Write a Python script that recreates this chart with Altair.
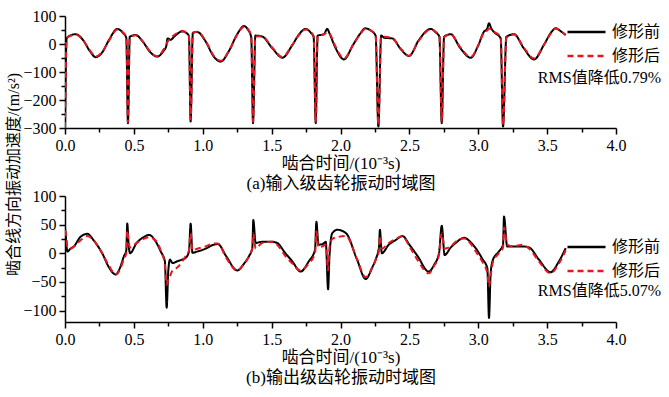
import altair as alt
import pandas as pd

series = ["修形前", "修形后"]
colors = ["#000000", "#e8161e"]

# ---- (a) input stage ----
top_t = [0.000, 0.012, 0.030, 0.078, 0.130, 0.180, 0.223, 0.270, 0.320, 0.380, 0.420, 0.445, 0.457, 0.470,
         0.513, 0.570, 0.620, 0.670, 0.715, 0.735, 0.745, 0.765, 0.800, 0.850, 0.880, 0.900, 0.912, 0.928,
         0.960, 1.020, 1.080, 1.130, 1.190, 1.250, 1.300, 1.330, 1.352, 1.365, 1.382, 1.430, 1.505, 1.578,
         1.650, 1.700, 1.747, 1.785, 1.805, 1.820, 1.834, 1.880, 1.904, 1.920, 1.965, 2.025, 2.090, 2.140,
         2.180, 2.220, 2.255, 2.275, 2.295, 2.320, 2.376, 2.440, 2.497, 2.570, 2.655, 2.690, 2.718, 2.735,
         2.752, 2.800, 2.870, 2.945, 3.000, 3.040, 3.065, 3.078, 3.095, 3.114, 3.163, 3.180, 3.204, 3.260,
         3.330, 3.405, 3.480, 3.530, 3.562, 3.600, 3.635]
top_before = [-300, 20, 28, 35, 15, -25, -47, -30, 15, 54, 40, 22, -283, 26,
              32, 5, -30, -45, -25, -8, 20, 15, 30, 45, 40, 28, -277, 40,
              43, 10, -45, -63, -25, 35, 64, 50, 24, -283, 30, 27, -15, -49,
              -4, 35, 54, 40, 25, -283, 30, 35, 54, 38, -15, -55, -4, 35,
              56, 48, 30, -295, 30, 22, 20, -20, -43, 15, 54, 42, 26, -283,
              26, 35, -15, -49, -5, 43, 55, 74, 55, 43, 20, -295, 26, 35,
              -15, -55, 0, 42, 56, 45, 32]
top_after = [-300, 18, 27, 33, 14, -22, -45, -28, 12, 52, 42, 24, -280, 22,
             31, 6, -28, -44, -20, -2, 8, 20, 35, 47, 40, 30, -270, 38,
             44, 12, -42, -60, -25, 33, 62, 52, 28, -278, 27, 28, -13, -47,
             -3, 33, 52, 42, 28, -280, 28, 34, 42, 38, -10, -52, -5, 33,
             54, 48, 32, -290, 25, 26, 20, -18, -42, 13, 52, 44, 28, -280,
             24, 34, -12, -47, -5, 40, 48, 55, 52, 44, 25, -290, 22, 34,
             -12, -52, 0, 40, 55, 46, 32]

# ---- (b) output stage ----
bot_t = [0.000, 0.006, 0.017, 0.040, 0.065, 0.110, 0.162, 0.210, 0.270, 0.320, 0.368, 0.400, 0.428, 0.445,
         0.452, 0.462, 0.472, 0.520, 0.570, 0.610, 0.660, 0.695, 0.725, 0.738, 0.750, 0.762, 0.780, 0.815,
         0.850, 0.876, 0.900, 0.912, 0.925, 0.960, 1.020, 1.080, 1.110, 1.170, 1.250, 1.300, 1.336, 1.360,
         1.367, 1.384, 1.430, 1.505, 1.540, 1.600, 1.650, 1.710, 1.770, 1.815, 1.825, 1.840, 1.870, 1.893,
         1.910, 1.920, 1.940, 1.977, 2.040, 2.120, 2.183, 2.230, 2.255, 2.280, 2.286, 2.300, 2.350, 2.400,
         2.450, 2.500, 2.560, 2.640, 2.680, 2.715, 2.735, 2.756, 2.800, 2.836, 2.897, 2.950, 2.990, 3.030,
         3.066, 3.078, 3.090, 3.107, 3.150, 3.180, 3.187, 3.210, 3.260, 3.320, 3.370, 3.440, 3.525, 3.586,
         3.635]
bot_before = [44, 30, 3, 8, 12, 28, 34, 22, 0, -25, -37, -25, -5, 5,
              52, 15, 0, 18, 28, 32, 20, 3, -14, -95, -30, -11, -17, -14,
              -11, -8, 3, 52, 1, 3, 8, 15, 16, -5, -30, -18, -5, 9,
              58, 18, 20, 20, 18, 0, -14, -32, -14, 6, 55, 15, 16, 20,
              -63, -5, 35, 41, 35, -11, -45, -25, -11, 12, 41, 0, 15, 23,
              30, 15, -5, -32, -20, 0, 48, -3, 10, 18, 27, 18, 6, -10,
              -26, -113, -35, -11, 3, 15, 64, 12, 12, 12, 10, -11, -33, -14,
              9]
bot_after = [40, 35, 12, 8, 12, 22, 30, 22, 0, -22, -37, -28, -10, 0,
             40, 20, 10, 18, 25, 28, 22, 5, -20, -55, -45, -40, -30, -25,
             -15, -5, 5, 35, 5, 8, 12, 17, 17, -8, -30, -18, -5, 10,
             35, 8, 18, 20, 15, -5, -18, -30, -18, 0, 38, 10, 12, 15,
             -30, 10, 25, 28, 30, -10, -42, -25, -12, 5, 30, 8, 18, 25,
             30, 12, -12, -35, -22, -3, 35, 8, 12, 20, 26, 15, 0, -15,
             -35, -58, -40, -15, 0, 10, 45, 15, 12, 15, 8, -14, -35, -18,
             5]

x_ticks = [0.0, 0.25, 0.5, 0.75, 1.0, 1.25, 1.5, 1.75, 2.0, 2.25, 2.5, 2.75, 3.0, 3.25, 3.5, 3.75, 4.0]
top_y_ticks = [-300, -250, -200, -150, -100, -50, 0, 50, 100]
bot_y_ticks = [-100, -75, -50, -25, 0, 25, 50, 75, 100]

x_title = "啮合时间/(10⁻³s)"
y_title = "啮合线方向振动加速度/(m/s²)"
sub_a = "(a)输入级齿轮振动时域图"
sub_b = "(b)输出级齿轮振动时域图"
rms_a = "RMS值降低0.79%"
rms_b = "RMS值降低5.07%"

SERIF = "Liberation Serif, Noto Sans CJK SC"
W = 551


def long_df(t, a, b):
    return pd.DataFrame({
        "t": list(t) + list(t),
        "v": list(a) + list(b),
        "s": [series[0]] * len(t) + [series[1]] * len(t),
    })


def panel(df, h, ydom, yticks, ymajor, rms, sub, leg_y, rms_y, with_ytitle):
    xaxis = alt.Axis(
        values=x_ticks, title=[x_title, sub],
        labelExpr="datum.value % 0.5 === 0 ? format(datum.value, '.1f') : ''",
        tickSize={"condition": {"test": "datum.value % 0.5 === 0", "value": 6}, "value": 4},
        labelFlush=False, titlePadding=2, titleFontSize=17, titleFont=SERIF,
        titleFontWeight="normal", titleLineHeight=20, labelPadding=3,
    )
    yargs = dict(
        values=yticks,
        labelExpr=f"datum.value % {ymajor} === 0 ? format(datum.value, 'd') : ''",
        tickSize={"condition": {"test": f"datum.value % {ymajor} === 0", "value": 6}, "value": 4},
        labelFlush=False, labelPadding=3,
    )
    if with_ytitle:
        yaxis = alt.Axis(title=y_title, titleAngle=270, titleX=-52, titleY=158,
                         titleAlign="center", titleBaseline="middle",
                         titleFont=SERIF, titleFontSize=16, titleFontWeight="normal", **yargs)
    else:
        yaxis = alt.Axis(title=None, **yargs)

    leg = dict(orient="none", legendX=510.5, legendY=leg_y, title=None,
               symbolType="M-2,0H2", symbolSize=361, symbolStrokeWidth=2.5,
               labelFont=SERIF, labelFontSize=16, labelOffset=14.5,
               rowPadding=5, padding=0, labelColor="black")
    lines = alt.Chart(df).mark_line(strokeWidth=2, clip=True, interpolate="monotone").encode(
        x=alt.X("t:Q", scale=alt.Scale(domain=[0, 4], nice=False, zero=False), axis=xaxis),
        y=alt.Y("v:Q", scale=alt.Scale(domain=ydom, nice=False, zero=False), axis=yaxis),
        color=alt.Color("s:N", scale=alt.Scale(domain=series, range=colors), legend=alt.Legend(**leg)),
        strokeDash=alt.StrokeDash("s:N", scale=alt.Scale(domain=series, range=[[1, 0], [6, 4]]),
                                  legend=alt.Legend(**leg)),
        detail="s:N",
    )
    txt = alt.Chart(pd.DataFrame({"label": [rms]})).mark_text(
        align="right", baseline="middle", font=SERIF, fontSize=16, color="black"
    ).encode(x=alt.value(W + 45), y=alt.value(rms_y), text="label:N")

    return alt.layer(lines, txt).properties(width=W, height=h)


top = panel(long_df(top_t, top_before, top_after), 112, [-300, 100], top_y_ticks, 100,
            rms_a, sub_a, 5, 62, True)
bot = panel(long_df(bot_t, bot_before, bot_after), 126, [-120, 100], bot_y_ticks, 50,
            rms_b, sub_b, 40, 95, False)

chart = alt.vconcat(top, bot, spacing=68, bounds="flush").resolve_scale(
    color="independent", strokeDash="independent"
).resolve_legend(color="independent", strokeDash="independent").properties(
    padding={"left": 5, "top": 8, "right": 5, "bottom": 3}
).configure_view(stroke=None).configure_axis(
    domainColor="black", domainWidth=1.5, tickColor="black", tickWidth=1.5,
    labelFont="Liberation Serif", labelFontSize=16, labelColor="black", titleColor="black",
    grid=False,
)

chart.save("out.html", embed_options={"renderer": "svg", "actions": False})
